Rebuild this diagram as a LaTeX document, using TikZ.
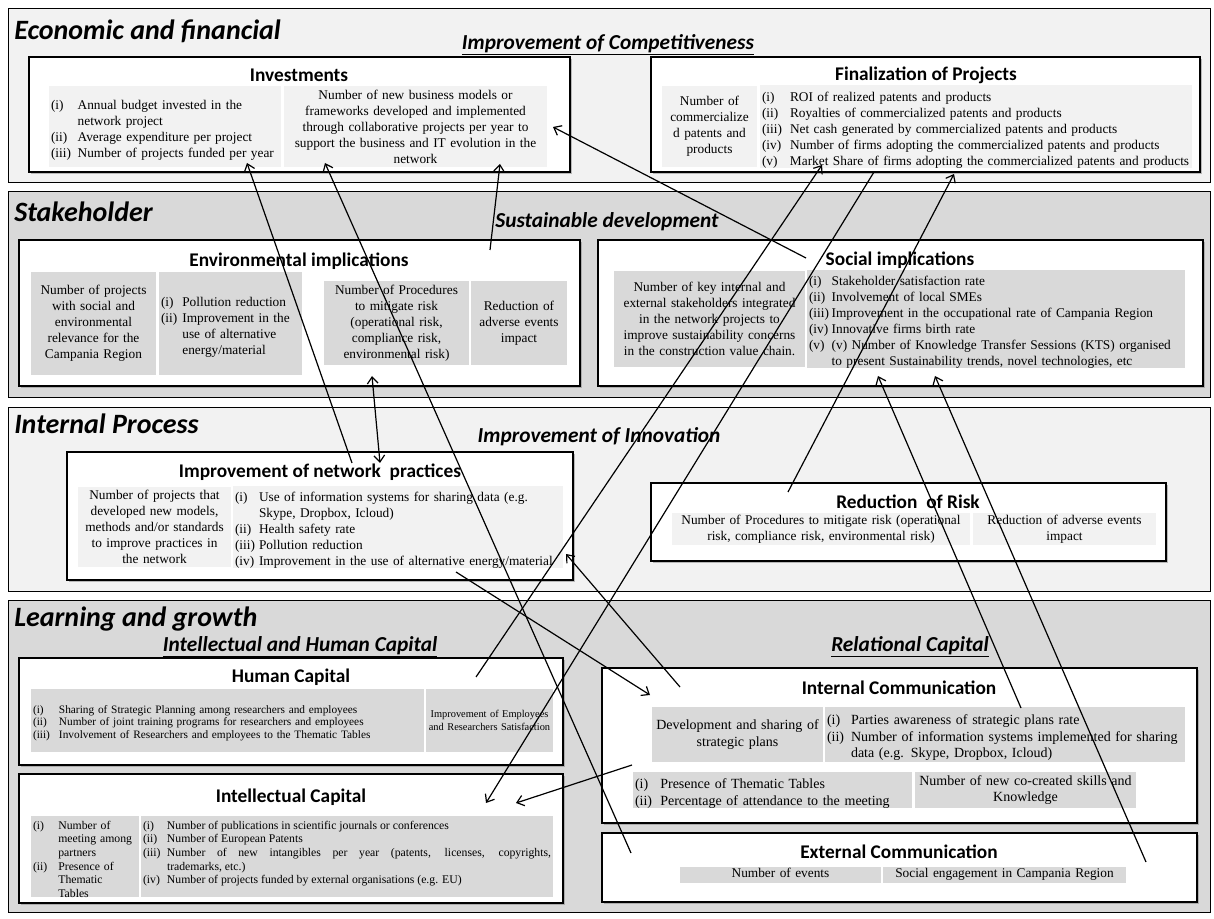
\documentclass[tikz,border=0pt]{standalone}
\usepackage{fontspec}
\setmainfont{Liberation Serif}
\newfontfamily\calibri{Carlito}
\usepackage{xcolor}
\usetikzlibrary{arrows.meta,shadows}
\definecolor{kpiLight}{RGB}{242,242,242}
\definecolor{kpiMid}{RGB}{217,217,217}
\hyphenpenalty=10000
\exhyphenpenalty=10000

% list item with a hanging label
\newcommand{\kpiitem}[3][18pt]{\par\noindent\hangindent=#1\hangafter=1\makebox[#1][l]{#2}#3\par}

% rectangle node from its corners (pixels)
\newcommand{\kpirect}[7][]{%
  \pgfmathsetmacro\rectw{(#5-#3)*0.75}%
  \pgfmathsetmacro\recth{(#6-#4)*0.75}%
  \pgfmathsetmacro\recttw{max((#5-#3)*0.75-3,1)}%
  \node[#1,minimum width=\rectw pt,minimum height=\recth pt,text width=\recttw pt]
    (#2) at ({(#3+#5)/2},{(#4+#6)/2}) {#7};}

\begin{document}
\begin{tikzpicture}[x=0.75pt,y=-0.75pt,
    band/.style={draw=black, line width=0.7pt, inner sep=0pt},
    lightband/.style={band, fill=kpiLight},
    midband/.style={band, fill=kpiMid},
    kpibox/.style={draw=black, fill=white, line width=1.3pt, inner sep=0pt,
      drop shadow={shadow xshift=1.2pt, shadow yshift=-1.2pt, fill=black!50}},
    cell/.style={inner xsep=1.5pt, inner ysep=0pt, font=\fontsize{10}{12}\selectfont},
    lightcell/.style={cell, fill=kpiLight},
    midcell/.style={cell, fill=kpiMid},
    bandtitle/.style={font=\calibri\bfseries\itshape\fontsize{21}{25}\selectfont, anchor=west, inner sep=0pt},
    persp/.style={font=\calibri\bfseries\itshape\fontsize{16}{19}\selectfont, inner sep=0pt},
    boxtitle/.style={font=\calibri\bfseries\fontsize{14.5}{17}\selectfont, inner sep=0pt},
    link/.style={line width=0.9pt, -{Straight Barb[length=5pt,width=8pt]}},
    twolink/.style={line width=0.9pt, {Straight Barb[length=5pt,width=8pt]}-{Straight Barb[length=5pt,width=8pt]}}]

    \useasboundingbox (0,0) rectangle (1214,919);

    % perspectives
    \kpirect[lightband]{ecoBand}{8}{8}{1210}{182}{}
    \kpirect[midband]{stakeBand}{8}{191}{1210}{397}{}
    \kpirect[lightband]{procBand}{8}{407}{1210}{591}{}
    \kpirect[midband]{learnBand}{8}{600}{1210}{912}{}

    \node[bandtitle] (ecoTitle) at (14,31) {Economic and financial};
    \node[persp] (compLabel) at (608,45) {\underline{Improvement of Competitiveness}};
    \node[bandtitle] (stakeTitle) at (14,212) {Stakeholder};
    \node[persp] (sustLabel) at (607,222) {Sustainable development};
    \node[bandtitle] (procTitle) at (14,424) {Internal Process};
    \node[persp] (innoLabel) at (599,437) {Improvement of Innovation};
    \node[bandtitle] (learnTitle) at (14,619) {Learning and growth};
    \node[persp] (ihcLabel) at (300,647) {\underline{Intellectual and Human Capital}};
    \node[persp] (relLabel) at (910,647) {\underline{Relational Capital}};

    % Economic and financial
    \kpirect[kpibox]{invBox}{29}{57}{570}{172}{}
    \node[boxtitle] (invTitle) at (299,75) {Investments};
    \kpirect[lightcell, align=left]{invL}{49}{86}{281}{167}{%
      \kpiitem[20pt]{(i)}{Annual budget invested in the\newline network project}
      \kpiitem[20pt]{(ii)}{Average expenditure per project}
      \kpiitem[20pt]{(iii)}{Number of projects funded per year}}
    \kpirect[lightcell, align=center]{invR}{284}{86}{547}{167}{Number of new business models or\\
      frameworks developed and implemented\\ through collaborative projects per year to\\
      support the business and IT evolution in the\\ network}

    \kpirect[kpibox]{finBox}{651}{57}{1200}{172}{}
    \node[boxtitle] (finTitle) at (926,75) {Finalization of Projects};
    \kpirect[lightcell, align=center]{finL}{662}{86}{757}{167}{Number of\\ commercialize\\ d patents and\\ products}
    \kpirect[lightcell, align=left]{finR}{760}{86}{1192}{167}{%
      \kpiitem[21pt]{(i)}{ROI of realized patents and products}
      \kpiitem[21pt]{(ii)}{Royalties of commercialized patents and products}
      \kpiitem[21pt]{(iii)}{Net cash generated by commercialized patents and products}
      \kpiitem[21pt]{(iv)}{Number of firms adopting the commercialized patents and products}
      \kpiitem[21pt]{(v)}{Market Share of firms adopting the commercialized patents and products}}

    % Stakeholder
    \kpirect[kpibox]{envBox}{19}{240}{580}{386}{}
    \node[boxtitle] (envTitle) at (299,261) {Environmental implications};
    \kpirect[midcell, align=center]{envA}{31}{272}{156}{375}{Number of projects\\ with social and\\
      environmental\\ relevance for the\\ Campania Region}
    \kpirect[midcell, align=left]{envB}{159}{272}{302}{375}{%
      \kpiitem[16pt]{(i)}{Pollution reduction}
      \kpiitem[16pt]{(ii)}{Improvement in the\newline use of alternative\newline energy/material}}
    \kpirect[midcell, align=center]{envC}{324}{281}{469}{365}{Number of Procedures\\ to mitigate risk\\
      (operational risk,\\ compliance risk,\\ environmental risk)}
    \kpirect[midcell, align=center]{envD}{471}{281}{567}{365}{Reduction of\\ adverse events\\ impact}

    \kpirect[kpibox]{socBox}{598}{240}{1203}{386}{}
    \node[boxtitle] (socTitle) at (900,260) {Social implications};
    \kpirect[midcell, align=center]{socA}{614}{271}{805}{367}{Number of key internal and\\
      external stakeholders integrated\\ in the network projects to\\
      improve sustainability concerns\\ in the construction value chain.}
    \kpirect[midcell, align=left]{socB}{807}{271}{1185}{367}{%
      \kpiitem[17pt]{(i)}{Stakeholder satisfaction rate}
      \kpiitem[17pt]{(ii)}{Involvement of local SMEs}
      \kpiitem[17pt]{(iii)}{Improvement in the occupational rate of Campania Region}
      \kpiitem[17pt]{(iv)}{Innovative firms birth rate}
      \kpiitem[17pt]{(v)}{(v) Number of Knowledge Transfer Sessions (KTS) organised\newline
        to present Sustainability trends, novel technologies, etc}}

    % Internal Process
    \kpirect[kpibox]{netBox}{67}{452}{573}{580}{}
    \node[boxtitle] (netTitle) at (320,472) {Improvement of network~~practices};
    \kpirect[lightcell, align=center]{netA}{78}{487}{231}{567}{Number of projects that\\
      developed new models,\\ methods and/or standards\\ to improve practices in\\ the network}
    \kpirect[lightcell, align=left]{netB}{233}{487}{563}{567}{%
      \kpiitem{(i)}{Use of information systems for sharing data (e.g.\newline Skype, Dropbox, Icloud)}
      \kpiitem{(ii)}{Health safety rate}
      \kpiitem{(iii)}{Pollution reduction}
      \kpiitem{(iv)}{Improvement in the use of alternative energy/material}}

    \kpirect[kpibox]{riskBox}{651}{483}{1166}{561}{}
    \node[boxtitle] (riskTitle) at (908,502) {Reduction~~of Risk};
    \kpirect[lightcell, align=center]{riskA}{672}{513}{970}{545}{Number of Procedures to mitigate risk (operational\\
      risk, compliance risk, environmental risk)}
    \kpirect[lightcell, align=center]{riskB}{973}{513}{1156}{545}{Reduction of adverse events\\ impact}

    % Learning and growth
    \kpirect[kpibox]{humBox}{19}{658}{563}{765}{}
    \node[boxtitle] (humTitle) at (291,677) {Human Capital};
    \kpirect[midcell, align=left, font=\fontsize{8.5}{9.4}\selectfont]{humA}{31}{689}{424}{752}{%
      \kpiitem[19.5pt]{(i)}{Sharing of Strategic Planning among researchers and employees}
      \kpiitem[19.5pt]{(ii)}{Number of joint training programs for researchers and employees}
      \kpiitem[19.5pt]{(iii)}{Involvement of Researchers and employees to the Thematic Tables}}
    \kpirect[midcell, align=center, font=\fontsize{7.8}{9.6}\selectfont]{humB}{426}{689}{553}{752}{Improvement of Employees\\
      and Researchers Satisfaction}

    \kpirect[kpibox]{intBox}{19}{774}{563}{903}{}
    \node[boxtitle] (intTitle) at (291,797) {Intellectual Capital};
    \kpirect[midcell, align=left, font=\fontsize{8.8}{10.2}\selectfont]{intA}{31}{816}{139}{897}{%
      \kpiitem[19pt]{(i)}{Number of\newline meeting among\newline partners}
      \kpiitem[19pt]{(ii)}{Presence of\newline Thematic\newline Tables}}
    \kpirect[midcell, align=justify, font=\fontsize{8.8}{10.2}\selectfont]{intB}{141}{816}{553}{897}{%
      \kpiitem{(i)}{Number of publications in scientific journals or conferences}
      \kpiitem{(ii)}{Number of European Patents}
      \kpiitem{(iii)}{Number of new intangibles per year (patents, licenses, copyrights,\linebreak trademarks, etc.)}
      \kpiitem{(iv)}{Number of projects funded by external organisations (e.g. EU)}
      \mbox{}\par}

    \kpirect[kpibox]{icomBox}{602}{668}{1197}{823}{}
    \node[boxtitle] (icomTitle) at (899,688) {Internal Communication};
    \kpirect[midcell, align=center, font=\fontsize{10.5}{12.5}\selectfont]{icomA}{652}{707}{823}{762}{Development and sharing of\\ strategic plans}
    \kpirect[midcell, align=left, font=\fontsize{10.5}{12.5}\selectfont]{icomB}{825}{707}{1185}{762}{%
      \kpiitem{(i)}{Parties awareness of strategic plans rate}
      \kpiitem{(ii)}{Number of information systems implemented for sharing\newline data (e.g. Skype, Dropbox, Icloud)}}
    \kpirect[midcell, align=left, font=\fontsize{10.5}{12.5}\selectfont]{icomC}{633}{772}{912}{808}{%
      \kpiitem[19pt]{(i)}{Presence of Thematic Tables}
      \kpiitem[19pt]{(ii)}{Percentage of attendance to the meeting}}
    \kpirect[midcell, align=center, font=\fontsize{10.5}{12.5}\selectfont]{icomD}{915}{772}{1136}{808}{Number of new co-created skills and\\ Knowledge}

    \kpirect[kpibox]{ecomBox}{602}{833}{1197}{902}{}
    \node[boxtitle] (ecomTitle) at (899,852) {External Communication};
    \kpirect[midcell, align=center]{ecomA}{680}{867}{881}{882}{\strut Number of events}
    \kpirect[midcell, align=center]{ecomB}{883}{867}{1126}{882}{\strut Social engagement in Campania Region}

    % link ends
    \coordinate (aNetTop) at (352,463);
    \coordinate (aInvL) at (247,163);
    \coordinate (aEnvLow) at (372,376);
    \coordinate (aNetTop2) at (380,463);
    \coordinate (aEnvTop) at (490,250);
    \coordinate (aInvR2) at (500,164);
    \coordinate (aEcomL) at (631,853);
    \coordinate (aInvR1) at (325,163);
    \coordinate (aSocT) at (806,258);
    \coordinate (aInvR3) at (553,127);
    \coordinate (aHumT) at (476,677);
    \coordinate (aFin1) at (822,165);
    \coordinate (aFinB) at (874,172);
    \coordinate (aInt1) at (486,803);
    \coordinate (aRiskT) at (788,492);
    \coordinate (aFin2) at (954,174);
    \coordinate (aIcomB) at (1021,708);
    \coordinate (aSoc1) at (878,376);
    \coordinate (aEcomR) at (1146,862);
    \coordinate (aSoc2) at (935,376);
    \coordinate (aIcomT) at (680,687);
    \coordinate (aNetR) at (566,554);
    \coordinate (aNetB) at (456,572);
    \coordinate (aIcomL) at (650,695);
    \coordinate (aIcomC) at (632,765);
    \coordinate (aInt2) at (516,803);

    % links
    \draw[link] (aNetTop) -- (aInvL);
    \draw[twolink] (aEnvLow) -- (aNetTop2);
    \draw[link] (aEnvTop) -- (aInvR2);
    \draw[link] (aEcomL) -- (aInvR1);
    \draw[link] (aSocT) -- (aInvR3);
    \draw[link] (aHumT) -- (aFin1);
    \draw[link] (aFinB) -- (aInt1);
    \draw[link] (aRiskT) -- (aFin2);
    \draw[link] (aIcomB) -- (aSoc1);
    \draw[link] (aEcomR) -- (aSoc2);
    \draw[link] (aIcomT) -- (aNetR);
    \draw[link] (aNetB) -- (aIcomL);
    \draw[link] (aIcomC) -- (aInt2);
\end{tikzpicture}
\end{document}
